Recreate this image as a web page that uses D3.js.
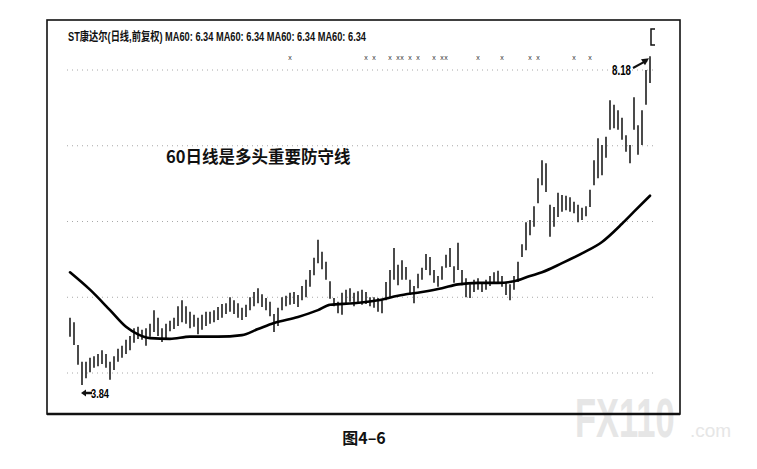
<!DOCTYPE html>
<html>
<head>
<meta charset="utf-8">
<script src="https://cdn.jsdelivr.net/npm/d3@7/dist/d3.min.js"></script>
<style>
  html, body { margin: 0; padding: 0; background: #fff; }
  #chart { width: 757px; height: 469px; }
</style>
</head>
<body>
<div id="chart"></div>
<script>
// ST康达尔 daily bars (前复权)
const highs = [
  4.73, 4.67, 4.37, 4.15, 4.15, 4.20, 4.22, 4.25, 4.30, 4.25,
  4.15, 4.22, 4.32, 4.36, 4.44, 4.49, 4.59, 4.61, 4.57, 4.59,
  4.65, 4.83, 4.73, 4.59, 4.65, 4.69, 4.73, 4.88, 4.96, 4.88,
  4.81, 4.77, 4.73, 4.77, 4.81, 4.81, 4.83, 4.87, 4.91, 4.92,
  5.00, 4.96, 4.92, 4.86, 4.90, 5.00, 5.07, 5.12, 5.04, 4.99,
  4.94, 4.78, 4.86, 5.00, 5.02, 5.06, 5.07, 5.03, 5.15, 5.23,
  5.36, 5.52, 5.76, 5.60, 5.47, 5.21, 4.99, 4.94, 5.06, 5.10,
  5.12, 5.06, 5.08, 5.10, 5.07, 5.00, 5.00, 4.99, 4.96, 5.20,
  5.36, 5.65, 5.43, 5.49, 5.40, 5.23, 5.15, 5.31, 5.39, 5.57,
  5.53, 5.36, 5.28, 5.41, 5.56, 5.65, 5.41, 5.72, 5.36, 5.25,
  5.17, 5.23, 5.25, 5.20, 5.23, 5.28, 5.33, 5.35, 5.28, 5.20,
  5.17, 5.28, 5.47, 5.70, 5.99, 6.02, 6.20, 6.57, 6.81, 6.77,
  6.22, 6.19, 6.38, 6.35, 6.34, 6.32, 6.26, 6.22, 6.18, 6.20,
  6.42, 6.81, 7.10, 7.01, 7.12, 7.60, 7.54, 7.47, 7.37, 7.14,
  7.01, 7.64, 7.27, 7.47, 8.00, 8.18
];
const lows = [
  4.48, 4.37, 4.11, 3.84, 3.93, 4.01, 4.07, 4.09, 4.12, 4.07,
  3.91, 4.04, 4.15, 4.20, 4.25, 4.30, 4.40, 4.45, 4.44, 4.36,
  4.48, 4.54, 4.49, 4.41, 4.46, 4.55, 4.58, 4.62, 4.67, 4.65,
  4.59, 4.61, 4.51, 4.57, 4.62, 4.65, 4.67, 4.70, 4.73, 4.78,
  4.81, 4.78, 4.73, 4.70, 4.74, 4.83, 4.88, 4.92, 4.87, 4.83,
  4.75, 4.54, 4.62, 4.83, 4.88, 4.90, 4.91, 4.87, 4.96, 5.00,
  5.14, 5.29, 5.45, 5.37, 5.23, 4.98, 4.88, 4.79, 4.77, 4.92,
  4.94, 4.88, 4.92, 4.90, 4.91, 4.88, 4.86, 4.81, 4.79, 4.96,
  5.00, 5.23, 5.16, 5.23, 5.23, 5.03, 4.92, 5.12, 5.23, 5.36,
  5.29, 5.19, 5.14, 5.23, 5.39, 5.40, 5.19, 5.36, 5.16, 5.00,
  4.99, 5.07, 5.10, 5.07, 5.10, 5.15, 5.19, 5.20, 5.14, 5.03,
  4.96, 5.10, 5.20, 5.53, 5.62, 5.82, 5.93, 6.24, 6.48, 6.39,
  5.80, 5.93, 6.06, 6.13, 6.15, 6.13, 6.11, 5.99, 6.02, 6.07,
  6.19, 6.48, 6.57, 6.61, 6.84, 7.21, 7.23, 7.21, 7.08, 6.92,
  6.77, 7.21, 6.88, 7.01, 7.54, 7.83
];

// MA60 read at selected bars
const maIndex = [0, 5, 10, 14, 17, 20, 25, 30, 37, 43, 47, 51, 57, 62, 65, 71, 77,
  82, 88, 93, 97, 102, 107, 111, 115, 118, 123, 128, 133, 138, 141, 145];
const maValues = [5.33, 5.10, 4.83, 4.61, 4.51, 4.46, 4.45, 4.48, 4.48, 4.50, 4.58,
  4.66, 4.74, 4.83, 4.90, 4.92, 4.96, 5.02, 5.07, 5.12, 5.17, 5.19, 5.19, 5.21,
  5.28, 5.33, 5.45, 5.58, 5.73, 5.97, 6.13, 6.34];

const gridLevels = [4, 5, 6, 7, 8];
const markBars = [55, 74, 76, 80, 82, 83, 85, 87, 91, 93, 94, 102, 108, 115, 117, 126, 130];

const titleText = "ST康达尔(日线,前复权) MA60: 6.34 MA60: 6.34 MA60: 6.34 MA60: 6.34";
const noteText = "60日线是多头重要防守线";
const captionText = "图4–6";
const highLabel = "8.18";
const lowLabel = "3.84";

const W = 757, H = 469;
const frame = { left: 47, top: 20, right: 680, bottom: 414 };

const svg = d3.select("#chart").append("svg")
  .attr("width", W)
  .attr("height", H)
  .style("font-family", "'Liberation Sans', 'Noto Sans CJK SC', sans-serif");

const x = d3.scaleLinear().domain([0, highs.length - 1]).range([70, 650]);
const y = d3.scaleLinear().domain([4, 8]).range([373, 70]);

// watermark (behind everything)
const wm = svg.append("g").attr("fill", "#e6e6e6");
wm.append("text")
  .attr("transform", "translate(575,437) scale(0.82,1.3)")
  .attr("font-size", 42).attr("font-weight", "bold")
  .text("FX110");
wm.append("text")
  .attr("x", 690).attr("y", 437)
  .attr("font-size", 19)
  .text(".com");

// dotted grid
svg.append("g")
  .selectAll("line")
  .data(gridLevels)
  .enter()
  .append("line")
  .attr("x1", frame.left + 20)
  .attr("x2", frame.right - 25)
  .attr("y1", d => y(d))
  .attr("y2", d => y(d))
  .attr("stroke", "#a8a8a8")
  .attr("stroke-width", 1)
  .attr("stroke-dasharray", "1,4");

// frame
svg.append("rect")
  .attr("x", frame.left)
  .attr("y", frame.top)
  .attr("width", frame.right - frame.left)
  .attr("height", frame.bottom - frame.top)
  .attr("fill", "none")
  .attr("stroke", "#111")
  .attr("stroke-width", 1.6);
svg.append("line")
  .attr("x1", frame.left).attr("x2", frame.right)
  .attr("y1", frame.bottom).attr("y2", frame.bottom)
  .attr("stroke", "#111").attr("stroke-width", 2.4);

// bars
svg.append("g")
  .selectAll("line")
  .data(highs)
  .enter()
  .append("line")
  .attr("x1", (d, i) => x(i))
  .attr("x2", (d, i) => x(i))
  .attr("y1", d => y(d))
  .attr("y2", (d, i) => y(lows[i]))
  .attr("stroke", "#2b2b2b")
  .attr("stroke-width", 1.7);

// MA60 line
const ma = d3.line()
  .x((d, i) => x(maIndex[i]))
  .y(d => y(d))
  .curve(d3.curveMonotoneX);

svg.append("path")
  .datum(maValues)
  .attr("d", ma)
  .attr("fill", "none")
  .attr("stroke", "#000")
  .attr("stroke-width", 2.6)
  .attr("stroke-linecap", "round");

// title
svg.append("text")
  .attr("x", 68).attr("y", 41)
  .attr("font-size", 12.5)
  .attr("font-weight", "bold")
  .attr("fill", "#111")
  .attr("textLength", 298)
  .attr("lengthAdjust", "spacingAndGlyphs")
  .text(titleText);

// small x marks along the top
svg.append("g")
  .selectAll("text")
  .data(markBars)
  .enter()
  .append("text")
  .attr("x", d => x(d))
  .attr("y", 60)
  .attr("text-anchor", "middle")
  .attr("font-size", 7)
  .attr("fill", "#333")
  .text("x");

// marker bracket at top right
svg.append("path")
  .attr("d", "M655,29 H651 V45 H655")
  .attr("fill", "none")
  .attr("stroke", "#111")
  .attr("stroke-width", 1.5);

// annotation
svg.append("text")
  .attr("x", 166).attr("y", 163)
  .attr("font-family", "'Noto Sans CJK SC', sans-serif")
  .attr("font-size", 16.5)
  .attr("font-weight", "bold")
  .attr("fill", "#111")
  .text(noteText);

// high label with arrow
const hiIdx = highs.length - 1;
svg.append("text")
  .attr("x", 612).attr("y", 75)
  .attr("font-size", 14)
  .attr("font-weight", "bold")
  .attr("textLength", 19)
  .attr("lengthAdjust", "spacingAndGlyphs")
  .text(highLabel);
svg.append("line")
  .attr("x1", 633).attr("y1", 68)
  .attr("x2", x(hiIdx) - 3).attr("y2", y(highs[hiIdx]) + 4)
  .attr("stroke", "#111").attr("stroke-width", 2);
svg.append("path")
  .attr("d", `M${x(hiIdx) - 1},${y(highs[hiIdx]) + 2} l-8,1 l4,6 z`)
  .attr("fill", "#111");

// low label with arrow pointing left
const loIdx = lows.indexOf(d3.min(lows));
svg.append("path")
  .attr("d", `M${x(loIdx) - 1},393 l5,-3.5 v2.3 h6 v2.4 h-6 v2.3 z`)
  .attr("fill", "#111");
svg.append("text")
  .attr("x", 91).attr("y", 398)
  .attr("font-size", 13)
  .attr("font-weight", "bold")
  .attr("textLength", 18)
  .attr("lengthAdjust", "spacingAndGlyphs")
  .text(lowLabel);

// caption
svg.append("text")
  .attr("x", 364).attr("y", 444)
  .attr("text-anchor", "middle")
  .attr("font-family", "'Noto Sans CJK SC', sans-serif")
  .attr("font-size", 16)
  .attr("font-weight", "bold")
  .attr("fill", "#111")
  .text(captionText);
</script>
</body>
</html>
